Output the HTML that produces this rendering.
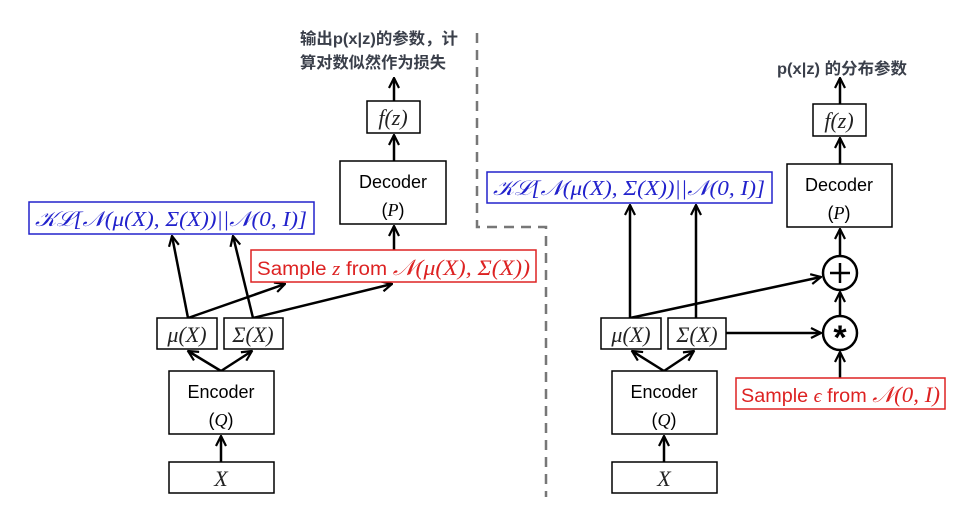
<!DOCTYPE html>
<html><head><meta charset="utf-8"><style>
html,body{margin:0;padding:0;background:#fff;}
svg{display:block;}
.m{font-family:"Liberation Serif",serif;font-style:italic;}
.s{font-family:"Liberation Sans",sans-serif;}
.t{font-family:"Liberation Sans","Noto Sans CJK SC",sans-serif;font-weight:bold;fill:#3a3f4a;}
</style></head><body>
<svg width="958" height="516" viewBox="0 0 958 516" xmlns="http://www.w3.org/2000/svg">
<defs>
<marker id="a" viewBox="0 0 12 12" refX="11" refY="6" markerWidth="12" markerHeight="12" markerUnits="userSpaceOnUse" orient="auto">
<polyline points="1,1 11,6 1,11" fill="none" stroke="#000" stroke-width="2.2"/>
</marker>
</defs>
<g stroke="#000" stroke-width="2.5" fill="none">
<line x1="394" y1="101" x2="394" y2="78" marker-end="url(#a)"/>
<line x1="394" y1="161" x2="394" y2="135" marker-end="url(#a)"/>
<line x1="394" y1="250" x2="394" y2="226" marker-end="url(#a)"/>
<line x1="188" y1="318" x2="172" y2="236" marker-end="url(#a)"/>
<line x1="253" y1="318" x2="233" y2="236" marker-end="url(#a)"/>
<line x1="188" y1="318" x2="285" y2="284" marker-end="url(#a)"/>
<line x1="253" y1="318" x2="392" y2="284" marker-end="url(#a)"/>
<line x1="221" y1="371" x2="188" y2="351" marker-end="url(#a)"/>
<line x1="221" y1="371" x2="252" y2="351" marker-end="url(#a)"/>
<line x1="221" y1="462" x2="221" y2="436" marker-end="url(#a)"/>
<line x1="840" y1="104" x2="840" y2="78" marker-end="url(#a)"/>
<line x1="840" y1="164" x2="840" y2="138" marker-end="url(#a)"/>
<line x1="840" y1="256" x2="840" y2="229" marker-end="url(#a)"/>
<line x1="840" y1="316" x2="840" y2="292" marker-end="url(#a)"/>
<line x1="840" y1="378" x2="840" y2="352" marker-end="url(#a)"/>
<line x1="630" y1="318" x2="630" y2="205" marker-end="url(#a)"/>
<line x1="696" y1="318" x2="696" y2="205" marker-end="url(#a)"/>
<line x1="630" y1="318" x2="821" y2="277" marker-end="url(#a)"/>
<line x1="726" y1="333" x2="821" y2="333" marker-end="url(#a)"/>
<line x1="664" y1="371" x2="632" y2="351" marker-end="url(#a)"/>
<line x1="664" y1="371" x2="694" y2="351" marker-end="url(#a)"/>
<line x1="664" y1="462" x2="664" y2="436" marker-end="url(#a)"/>
<circle cx="840" cy="273" r="17"/>
<circle cx="840" cy="333" r="17"/>
<line x1="830" y1="273" x2="850" y2="273"/><line x1="840" y1="263" x2="840" y2="283"/>
</g>
<polyline points="477,33 477,227 546,227 546,497" fill="none" stroke="#777" stroke-width="2.5" stroke-dasharray="10,7"/>
<g fill="#fff" stroke="#000" stroke-width="1.5">
<rect x="367" y="101" width="53" height="32"/>
<rect x="340" y="161" width="106" height="63"/>
<rect x="157" y="318" width="60" height="31"/>
<rect x="224" y="318" width="59" height="31"/>
<rect x="169" y="371" width="105" height="63"/>
<rect x="169" y="462" width="105" height="31"/>
<rect x="813" y="104" width="53" height="32"/>
<rect x="787" y="164" width="105" height="63"/>
<rect x="601" y="318" width="60" height="31"/>
<rect x="668" y="318" width="58" height="31"/>
<rect x="612" y="371" width="105" height="63"/>
<rect x="612" y="462" width="105" height="31"/>
</g>
<rect x="29" y="202" width="285" height="32" fill="#fff" stroke="#2222cc" stroke-width="1.5"/>
<rect x="487" y="172" width="285" height="31" fill="#fff" stroke="#2222cc" stroke-width="1.5"/>
<rect x="251" y="250" width="285" height="32" fill="#fff" stroke="#dd2222" stroke-width="1.5"/>
<rect x="736" y="378" width="209" height="31" fill="#fff" stroke="#dd2222" stroke-width="1.5"/>
<text class="t" x="300" y="44" font-size="16" textLength="158" lengthAdjust="spacingAndGlyphs">输出p(x|z)的参数，计</text>
<text class="t" x="300" y="68" font-size="16" textLength="146" lengthAdjust="spacingAndGlyphs">算对数似然作为损失</text>
<text class="t" x="777" y="74" font-size="16" textLength="130" lengthAdjust="spacingAndGlyphs">p(x|z) 的分布参数</text>
<g class="m" font-size="22" text-anchor="middle" fill="#222">
<text x="393" y="125">f(z)</text>
<text x="839" y="128">f(z)</text>
<text x="187" y="342">μ(X)</text>
<text x="253" y="342">Σ(X)</text>
<text x="631" y="342">μ(X)</text>
<text x="697" y="342">Σ(X)</text>
<text x="221" y="486">X</text>
<text x="664" y="486">X</text>
</g>
<g class="s" font-size="18" text-anchor="middle" fill="#000">
<text x="393" y="188">Decoder</text>
<text x="393" y="216">(<tspan class="m">P</tspan>)</text>
<text x="839" y="191">Decoder</text>
<text x="839" y="219">(<tspan class="m">P</tspan>)</text>
<text x="221" y="398">Encoder</text>
<text x="221" y="426">(<tspan class="m">Q</tspan>)</text>
<text x="664" y="398">Encoder</text>
<text x="664" y="426">(<tspan class="m">Q</tspan>)</text>
</g>
<text class="m" x="171" y="226" font-size="21" text-anchor="middle" fill="#2222cc" textLength="272" lengthAdjust="spacingAndGlyphs">𝒦ℒ[𝒩(μ(X), Σ(X))||𝒩(0, I)]</text>
<text class="m" x="629" y="195" font-size="21" text-anchor="middle" fill="#2222cc" textLength="272" lengthAdjust="spacingAndGlyphs">𝒦ℒ[𝒩(μ(X), Σ(X))||𝒩(0, I)]</text>
<text x="257" y="275" font-size="19" fill="#dd2222" class="s" textLength="273" lengthAdjust="spacingAndGlyphs">Sample <tspan class="m">z</tspan> from <tspan class="m" font-size="22">𝒩(μ(X), Σ(X))</tspan></text>
<text x="741" y="402" font-size="19" fill="#dd2222" class="s" textLength="199" lengthAdjust="spacingAndGlyphs">Sample <tspan class="m">ϵ</tspan> from <tspan class="m" font-size="22">𝒩(0, I)</tspan></text>
<text x="840" y="349" font-size="34" font-weight="bold" text-anchor="middle" class="s" fill="#000">*</text>
</svg>
</body></html>
